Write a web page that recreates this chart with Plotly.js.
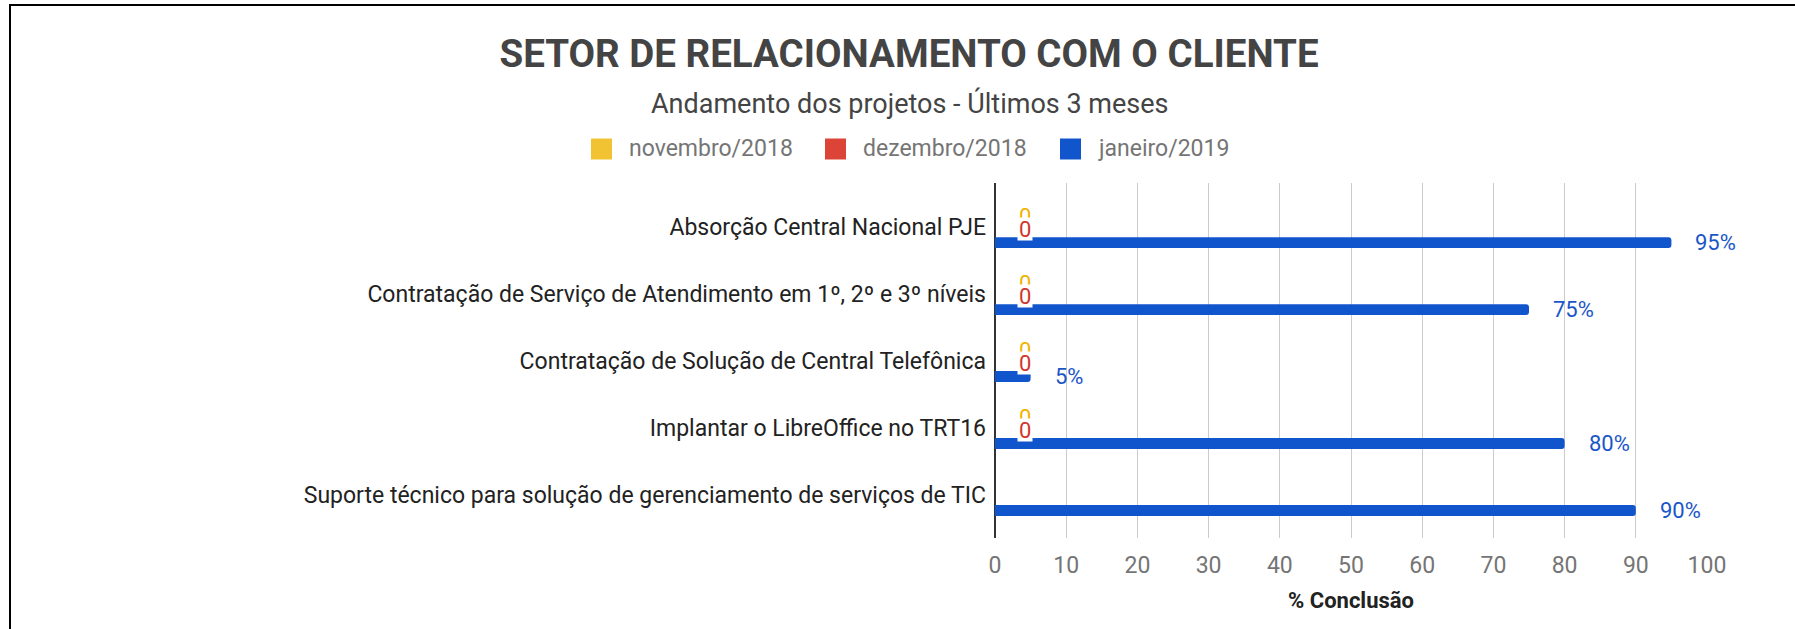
<!DOCTYPE html>
<html>
<head>
<meta charset="utf-8">
<script src="https://cdn.plot.ly/plotly-3.0.1.min.js"></script>
<style>
  html, body { margin: 0; padding: 0; background: #fff; overflow: hidden; }
  #wrap { position: relative; width: 1795px; height: 629px; overflow: hidden; }
  #chart { position: absolute; left: 0; top: 0; width: 1795px; height: 629px; }
  .edge { position: absolute; background: #000; pointer-events: none; }
  #edgeTop { left: 9px; top: 4px; width: 1786px; height: 2px; }
  #edgeLeft { left: 9px; top: 4px; width: 2px; height: 625px; }
</style>
</head>
<body>
<div id="wrap"><div id="chart"></div><div class="edge" id="edgeTop"></div><div class="edge" id="edgeLeft"></div></div>
<script>
// ---- data ----
const categories = [
  "Absorção Central Nacional PJE",
  "Contratação de Serviço de Atendimento em 1º, 2º e 3º níveis",
  "Contratação de Solução de Central Telefônica",
  "Implantar o LibreOffice no TRT16",
  "Suporte técnico para solução de gerenciamento de serviços de TIC"
];
const seriesNames = ["novembro/2018", "dezembro/2018", "janeiro/2019"];
const novembro2018 = [0, 0, 0, 0, null];
const dezembro2018 = [0, 0, 0, 0, null];
const janeiro2019 = [95, 75, 5, 80, 90];
const xTickValues = [0, 10, 20, 30, 40, 50, 60, 70, 80, 90, 100];
const titleText = "SETOR DE RELACIONAMENTO COM O CLIENTE";
const subtitleText = "Andamento dos projetos - Últimos 3 meses";
const xAxisTitle = "% Conclusão";

// ---- styles / layout ----
const seriesColors = ["#f1c232", "#dc4437", "#1155cc"];
const labelColors = ["#f0b400", "#d2352b", "#1a56c8"];
const labelSuffix = ["", "", "%"];
const seriesValues = [novembro2018, dezembro2018, janeiro2019];
const W = 1795, H = 629;
const M = { l: 995, r: 88, t: 183, b: 91 };
const PW = W - M.l - M.r, PH = H - M.t - M.b;
const px2x = px => (px - M.l) / PW;
const px2y = py => (H - M.b - py) / PH;
const FONT = "Roboto, 'Open Sans', sans-serif";
const slotOffset = [-0.24, 0, 0.24];
const labelYShift = [-6, -2.5, 0];
const legendBoxX = [591, 825, 1060];
const legendY = 149;

const traces = seriesValues.map((vals, s) => ({
  type: "bar",
  orientation: "h",
  name: seriesNames[s],
  x: vals,
  y: categories,
  marker: { color: seriesColors[s], cornerradius: 3 },
  hoverinfo: "skip",
  showlegend: false
}));

const annotations = [];
seriesValues.forEach((vals, s) => {
  vals.forEach((v, i) => {
    if (v === null || v === undefined) return;
    const a = {
      xref: "x", yref: "y",
      x: v, y: i + slotOffset[s],
      text: v + labelSuffix[s],
      showarrow: false,
      xanchor: "left", yanchor: "middle",
      xshift: 22, yshift: labelYShift[s],
      font: { family: FONT, size: 22, color: labelColors[s] }
    };
    if (s < 2) { a.bgcolor = "#ffffff"; a.height = 20; a.borderpad = 1; }
    annotations.push(a);
  });
});
// subtitle
annotations.push({
  xref: "paper", yref: "paper", x: px2x(909), y: px2y(103),
  xanchor: "center", yanchor: "middle", showarrow: false,
  text: subtitleText,
  font: { family: FONT, size: 27, color: "#444444" }
});
// legend (built from series names/colors)
const shapes = [];
seriesNames.forEach((name, s) => {
  shapes.push({
    type: "rect", xref: "paper", yref: "paper",
    x0: px2x(legendBoxX[s]), x1: px2x(legendBoxX[s] + 21),
    y0: px2y(legendY - 10.5), y1: px2y(legendY + 10.5),
    fillcolor: seriesColors[s], line: { width: 0 }
  });
  annotations.push({
    xref: "paper", yref: "paper",
    x: px2x(legendBoxX[s] + 36), y: px2y(legendY),
    xanchor: "left", yanchor: "middle", showarrow: false,
    text: name,
    font: { family: FONT, size: 23, color: "#757575" }
  });
});

const layout = {
  width: W, height: H,
  margin: { l: M.l, r: M.r, t: M.t, b: M.b, pad: 0 },
  paper_bgcolor: "#ffffff",
  plot_bgcolor: "#ffffff",
  showlegend: false,
  barmode: "group",
  bargap: 0.28,
  bargroupgap: 0.32,
  title: {
    text: "<b>" + titleText + "</b>",
    xref: "container", yref: "container",
    x: 909 / W, y: 1 - 54 / H, xanchor: "center", yanchor: "middle",
    font: { family: FONT, size: 38.5, color: "#444444" }
  },
  xaxis: {
    range: [0, 100],
    tickvals: xTickValues,
    ticktext: xTickValues.map(String),
    showgrid: true, gridcolor: "#cccccc", gridwidth: 1,
    zeroline: true, zerolinecolor: "#333333", zerolinewidth: 1.5,
    showline: false, ticks: "",
    ticklabelstandoff: 11,
    tickfont: { family: FONT, size: 23, color: "#757575" },
    title: {
      text: "<b>" + xAxisTitle + "</b>",
      standoff: 14,
      font: { family: FONT, size: 22, color: "#222222" }
    },
    fixedrange: true
  },
  yaxis: {
    type: "category",
    categoryorder: "array",
    categoryarray: categories,
    range: [4.65, -0.65],
    autorange: false,
    showgrid: false, zeroline: false, showline: false, ticks: "",
    ticklabelstandoff: 8,
    tickfont: { family: FONT, size: 23, color: "#222222" },
    fixedrange: true
  },
  annotations: annotations,
  shapes: shapes
};

Plotly.newPlot("chart", traces, layout, { displayModeBar: false, staticPlot: true });
</script>
</body>
</html>
